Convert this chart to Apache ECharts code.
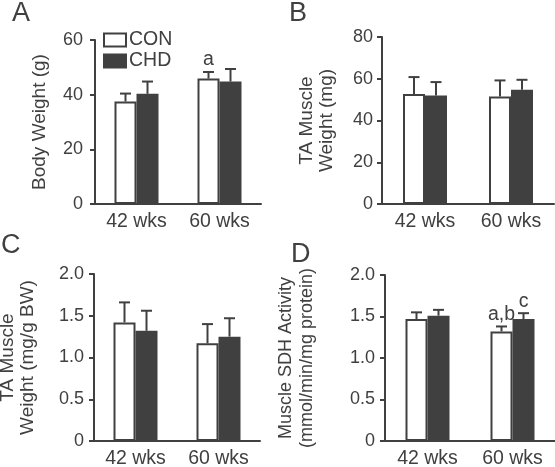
<!DOCTYPE html>
<html>
<head>
<meta charset="utf-8">
<script src="https://cdn.jsdelivr.net/npm/echarts@6/dist/echarts.min.js"></script>
<style>
html,body{margin:0;padding:0;background:#fff;overflow:hidden;}
#chart{width:555px;height:467px;}
</style>
</head>
<body>
<div id="chart"></div>
<script>
// ---- data ----
const categories = ['42 wks', '60 wks'];
const seriesNames = ['CON', 'CHD'];

// Panel A: Body Weight (g)
const bwCon = [37.5, 45.9];
const bwConErr = [2.9, 2.4];
const bwChd = [40.3, 44.8];
const bwChdErr = [4.5, 4.6];
const bwConNote = ['', 'a'];
const bwChdNote = ['', ''];
const bwTicks = [0, 20, 40, 60];

// Panel B: TA muscle weight (mg)
const taCon = [52.7, 51.5];
const taConErr = [8.1, 7.7];
const taChd = [52.0, 54.7];
const taChdErr = [6.4, 4.8];
const taTicks = [0, 20, 40, 60, 80];

// Panel C: TA muscle weight (mg/g BW)
const relCon = [1.42, 1.17];
const relConErr = [0.24, 0.23];
const relChd = [1.32, 1.25];
const relChdErr = [0.24, 0.22];
const relTicks = ['0', '0.5', '1.0', '1.5', '2.0'];

// Panel D: Muscle SDH activity
const sdhCon = [1.47, 1.32];
const sdhConErr = [0.08, 0.06];
const sdhChd = [1.51, 1.47];
const sdhChdErr = [0.07, 0.07];
const sdhConNote = ['', 'a,b'];
const sdhChdNote = ['', 'c'];
const sdhTicks = ['0', '0.5', '1.0', '1.5', '2.0'];

// ---- styling ----
const FONT = '"Liberation Sans", Arial, Helvetica, sans-serif';
const INK = '#404040';
const BAR_W = 22;
const LABEL_SIZE = 19.5;
const TICK_SIZE = 18;

const panels = [
  {letter: 'A', lpos: {left: 12, top: 0},
   grid: {left: 95, top: 40, width: 166, height: 164},
   ticks: bwTicks, name: 'Body Weight (g)', nameGap: 45, nameSize: 19, nameLH: 20, labelMargin: 12,
   con: bwCon, conErr: bwConErr, chd: bwChd, chdErr: bwChdErr,
   conNote: bwConNote, chdNote: bwChdNote},
  {letter: 'B', lpos: {left: 289, top: 0},
   grid: {left: 382, top: 37, width: 172, height: 167},
   ticks: taTicks, name: 'TA Muscle\nWeight (mg)', nameGap: 45, nameSize: 19, nameLH: 20, labelMargin: 9,
   con: taCon, conErr: taConErr, chd: taChd, chdErr: taChdErr,
   conNote: ['', ''], chdNote: ['', '']},
  {letter: 'C', lpos: {left: 1, top: 232},
   grid: {left: 94, top: 274, width: 166, height: 167},
   ticks: relTicks, name: 'TA Muscle\nWeight (mg/g BW)', nameGap: 56, nameSize: 19, nameLH: 20, labelMargin: 10,
   con: relCon, conErr: relConErr, chd: relChd, chdErr: relChdErr,
   conNote: ['', ''], chdNote: ['', '']},
  {letter: 'D', lpos: {left: 291, top: 241},
   grid: {left: 385, top: 275, width: 170, height: 166},
   ticks: sdhTicks, name: 'Muscle SDH Activity\n(mmol/min/mg protein)', nameGap: 67, nameSize: 18, nameLH: 21.5, labelMargin: 10,
   con: sdhCon, conErr: sdhConErr, chd: sdhChd, chdErr: sdhChdErr,
   conNote: sdhConNote, chdNote: sdhChdNote}
];

function errSeries(idx, means, errs, notes, offset) {
  return {
    type: 'custom', xAxisIndex: idx, yAxisIndex: idx, z: 5, silent: true,
    data: means.map((m, i) => [i, m, errs[i]]),
    renderItem: function (params, api) {
      const c = api.value(0), m = api.value(1), e = api.value(2);
      const p0 = api.coord([c, m]);
      const p1 = api.coord([c, m + e]);
      const x = p0[0] + offset;
      const children = [
        {type: 'line', shape: {x1: x, y1: p0[1], x2: x, y2: p1[1]},
         style: {stroke: INK, lineWidth: 2}},
        {type: 'line', shape: {x1: x - 5.5, y1: p1[1], x2: x + 5.5, y2: p1[1]},
         style: {stroke: INK, lineWidth: 2}}
      ];
      const note = notes[params.dataIndex];
      if (note) {
        children.push({type: 'text', style: {text: note, x: x, y: p1[1] - 2,
          align: 'center', verticalAlign: 'bottom', fill: INK,
          font: LABEL_SIZE + 'px ' + FONT}});
      }
      return {type: 'group', children: children};
    }
  };
}

const option = {
  animation: false,
  backgroundColor: '#fff',
  textStyle: {fontFamily: FONT},
  title: panels.map(p => ({text: p.letter, left: p.lpos.left, top: p.lpos.top, padding: 0,
    textStyle: {fontSize: 27, fontWeight: 'normal', color: INK, fontFamily: FONT}})),
  legend: {
    data: seriesNames, orient: 'vertical', left: 103, top: 30,
    itemWidth: 22, itemHeight: 13, itemGap: 1, icon: 'rect', padding: 0,
    textStyle: {fontSize: LABEL_SIZE, lineHeight: 20, color: INK, fontFamily: FONT, padding: [0, 0, 0, -2]},
    selectedMode: false
  },
  grid: panels.map(p => Object.assign({outerBoundsMode: 'none', containLabel: false}, p.grid)),
  xAxis: panels.map((p, i) => ({
    type: 'category', gridIndex: i, data: categories,
    axisLine: {lineStyle: {color: INK, width: 2}},
    axisTick: {show: false},
    axisLabel: {color: INK, fontSize: LABEL_SIZE, margin: 8, fontFamily: FONT},
    splitLine: {show: false}
  })),
  yAxis: panels.map((p, i) => ({
    type: 'value', gridIndex: i, min: 0, max: Number(p.ticks[p.ticks.length - 1]),
    interval: Number(p.ticks[1]),
    name: p.name, nameLocation: 'middle', nameGap: p.nameGap, nameRotate: 90,
    nameTextStyle: {color: INK, fontSize: p.nameSize, lineHeight: p.nameLH, fontFamily: FONT},
    axisLine: {show: true, lineStyle: {color: INK, width: 2}},
    axisTick: {show: true, length: 5, lineStyle: {color: INK, width: 2}},
    axisLabel: {color: INK, fontSize: TICK_SIZE, margin: p.labelMargin, fontFamily: FONT,
      formatter: function (v) {
        const k = p.ticks.findIndex(t => Math.abs(Number(t) - v) < 1e-9);
        return k >= 0 ? String(p.ticks[k]) : '';
      }},
    splitLine: {show: false}
  })),
  series: []
};

panels.forEach((p, i) => {
  option.series.push({
    name: 'CON', type: 'bar', xAxisIndex: i, yAxisIndex: i, data: p.con,
    barWidth: BAR_W, barGap: '0%',
    itemStyle: {color: '#ffffff', borderColor: INK, borderWidth: 2}
  });
  option.series.push({
    name: 'CHD', type: 'bar', xAxisIndex: i, yAxisIndex: i, data: p.chd,
    barWidth: BAR_W, barGap: '0%',
    itemStyle: {color: INK, borderColor: INK, borderWidth: 2}
  });
  option.series.push(errSeries(i, p.con, p.conErr, p.conNote, -BAR_W / 2));
  option.series.push(errSeries(i, p.chd, p.chdErr, p.chdNote, BAR_W / 2));
});

const chart = echarts.init(document.getElementById('chart'), null, {renderer: 'canvas'});
chart.setOption(option);
</script>
</body>
</html>
